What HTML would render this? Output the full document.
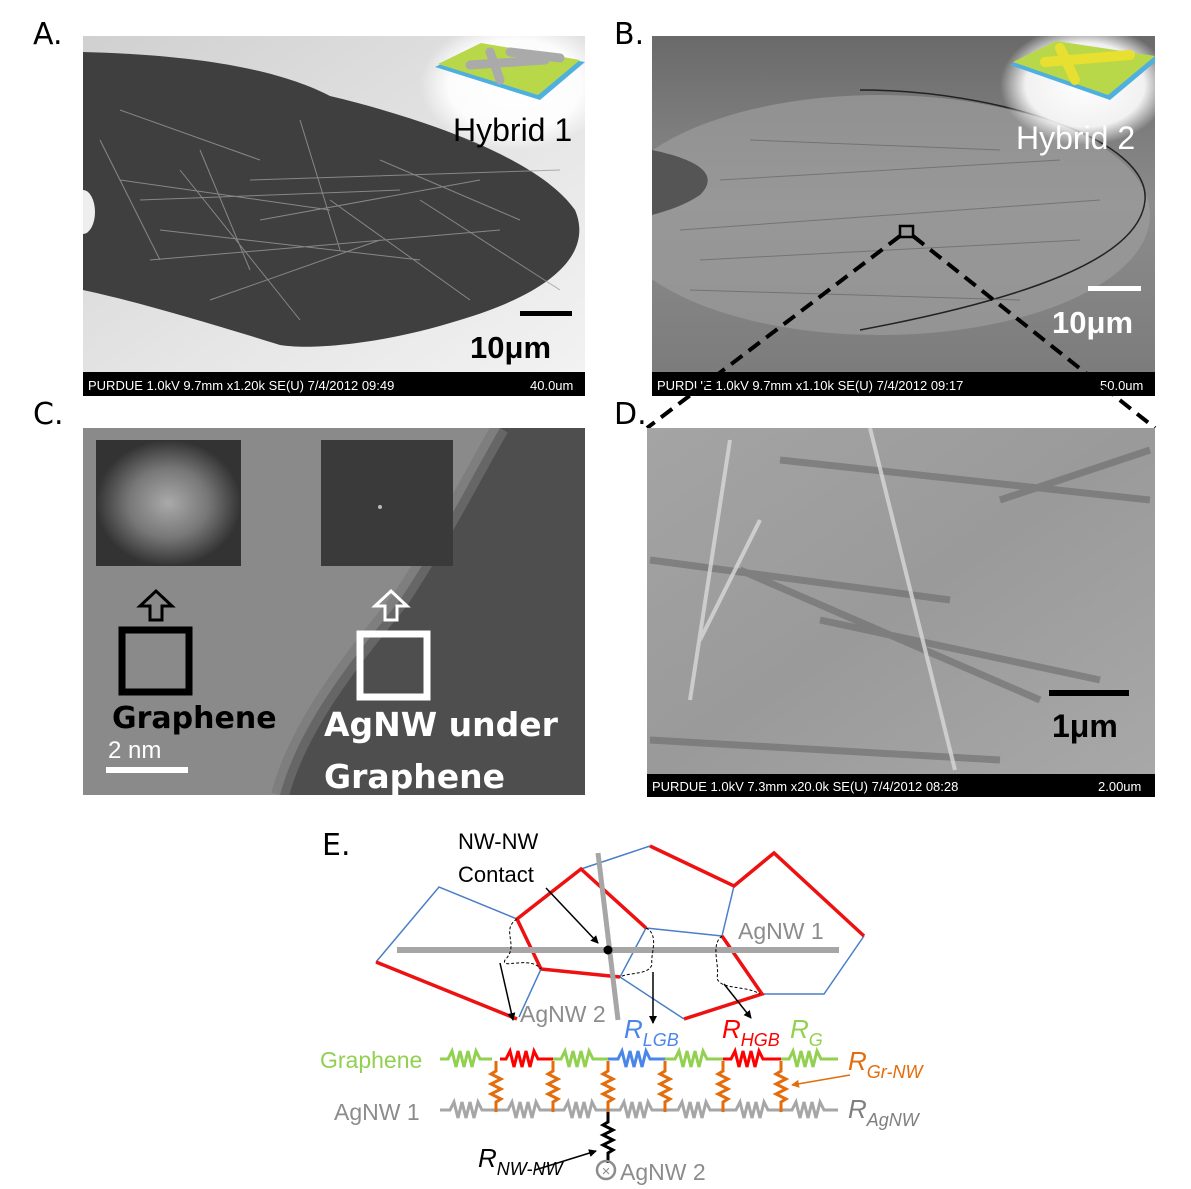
<!DOCTYPE html>
<html><head><meta charset="utf-8"><style>
html,body{margin:0;padding:0;background:#fff;}
svg{display:block;font-family:"Liberation Sans",sans-serif;}
.lbl{font-family:"DejaVu Sans","Liberation Sans",sans-serif;}
</style></head><body>
<svg width="1191" height="1189" viewBox="0 0 1191 1189" xmlns="http://www.w3.org/2000/svg">
<defs>
<clipPath id="cA"><rect x="83" y="36" width="502" height="336"/></clipPath>
<clipPath id="cB"><rect x="652" y="36" width="503" height="336"/></clipPath>
<clipPath id="cC"><rect x="83" y="428" width="502" height="367"/></clipPath>
<clipPath id="cD"><rect x="647" y="428" width="508" height="346"/></clipPath>
<linearGradient id="bgA" x1="0" y1="0" x2="1" y2="1"><stop offset="0" stop-color="#d0d0d0"/><stop offset="0.6" stop-color="#e6e6e6"/><stop offset="1" stop-color="#f2f2f2"/></linearGradient>
<linearGradient id="bgB" x1="0" y1="0" x2="0" y2="1"><stop offset="0" stop-color="#6a6a6a"/><stop offset="0.5" stop-color="#8c8c8c"/><stop offset="1" stop-color="#7c7c7c"/></linearGradient>
<radialGradient id="wB" cx="0.5" cy="0.5" r="0.5"><stop offset="0" stop-color="#fff" stop-opacity="1"/><stop offset="0.7" stop-color="#fff" stop-opacity="0.9"/><stop offset="1" stop-color="#fff" stop-opacity="0"/></radialGradient>
<radialGradient id="fft1" cx="0.5" cy="0.5" r="0.5"><stop offset="0" stop-color="#aaa"/><stop offset="0.55" stop-color="#777"/><stop offset="1" stop-color="#333"/></radialGradient>
<linearGradient id="bgD" x1="0" y1="0" x2="1" y2="1"><stop offset="0" stop-color="#a4a4a4"/><stop offset="0.5" stop-color="#9a9a9a"/><stop offset="1" stop-color="#a8a8a8"/></linearGradient>
<marker id="ah" markerWidth="8" markerHeight="8" refX="7" refY="4" orient="auto" markerUnits="userSpaceOnUse"><path d="M0,0 L8,4 L0,8 z" fill="#000"/></marker>
<marker id="ao" markerWidth="8" markerHeight="8" refX="7" refY="4" orient="auto" markerUnits="userSpaceOnUse"><path d="M0,0 L8,4 L0,8 z" fill="#e46c0a"/></marker>
</defs>

<text x="33" y="44" font-size="30" class="lbl">A.</text>
<text x="614" y="44" font-size="30" class="lbl">B.</text>
<text x="33" y="424" font-size="30" class="lbl">C.</text>
<text x="614" y="424" font-size="30" class="lbl">D.</text>
<text x="322" y="855" font-size="30" class="lbl">E.</text>

<!-- Panel A -->
<g clip-path="url(#cA)">
<rect x="83" y="36" width="502" height="336" fill="url(#bgA)"/>
<path d="M83,52 C200,55 280,70 330,96 C430,120 540,160 575,210 C592,250 560,290 460,320 C380,345 310,350 280,345 C200,320 130,300 83,290 Z" fill="#3f3f3f"/>
<ellipse cx="83" cy="212" rx="12" ry="22" fill="#eee"/>
<g stroke="#9a9a9a" stroke-width="1" fill="none" opacity="0.8">
<path d="M120,180 L330,210 M140,200 L400,190 M160,230 L420,260 M200,150 L250,270 M300,120 L340,250 M150,260 L500,230 M250,180 L560,170 M330,200 L470,300 M120,110 L260,160 M380,160 L520,220 M210,300 L380,240 M420,200 L560,290 M180,170 L300,320 M260,220 L480,180 M100,140 L160,260"/>
</g>
<ellipse cx="515" cy="85" rx="95" ry="65" fill="url(#wB)"/>
<polygon points="435,67 480,45 585,62 540,100" fill="#4fb0e0"/>
<polygon points="438,64 481,43 580,60 538,95" fill="#b8d84a"/>
<g stroke="#aaa" stroke-width="9" stroke-linecap="round"><line x1="470" y1="65" x2="545" y2="60"/><line x1="490" y1="52" x2="500" y2="80"/><line x1="510" y1="52" x2="560" y2="58"/></g>
<text x="453" y="141" font-size="32" fill="#000">Hybrid 1</text>
<rect x="520" y="311" width="52" height="5" fill="#000"/>
<text x="470" y="358" font-size="31" font-weight="bold" fill="#000">10μm</text>
</g>
<rect x="83" y="372" width="502" height="24" fill="#000"/>
<text x="88" y="390" font-size="13" fill="#fff">PURDUE 1.0kV 9.7mm x1.20k SE(U) 7/4/2012 09:49</text>
<text x="530" y="390" font-size="13" fill="#fff">40.0um</text>

<!-- Panel B -->
<g clip-path="url(#cB)">
<rect x="652" y="36" width="503" height="336" fill="url(#bgB)"/>
<ellipse cx="880" cy="215" rx="270" ry="120" fill="#9c9c9c" opacity="0.7"/>
<path d="M652,150 C700,160 720,175 700,195 C685,205 670,210 652,215" fill="#555"/>
<path d="M860,90 C1000,90 1150,140 1145,200 C1140,260 1020,300 860,330" fill="none" stroke="#222" stroke-width="1.5"/>
<g stroke="#666" stroke-width="1" opacity="0.7">
<path d="M680,230 L1100,200 M700,260 L1080,240 M720,180 L1060,160 M690,290 L1020,300 M750,140 L1000,150"/>
</g>
<ellipse cx="1085" cy="85" rx="85" ry="60" fill="url(#wB)"/>
<polygon points="1010,65 1055,43 1160,58 1110,100" fill="#4fb0e0"/>
<polygon points="1013,62 1056,41 1155,56 1108,95" fill="#b8d84a"/>
<g stroke="#e8e030" stroke-width="10" stroke-linecap="round"><line x1="1045" y1="62" x2="1130" y2="55"/><line x1="1060" y1="48" x2="1075" y2="80"/></g>
<text x="1016" y="149" font-size="32" fill="#fff">Hybrid 2</text>
<rect x="1088" y="286" width="53" height="5" fill="#fff"/>
<text x="1052" y="333" font-size="31" font-weight="bold" fill="#fff">10μm</text>
</g>
<rect x="652" y="372" width="503" height="24" fill="#000"/>
<text x="657" y="390" font-size="13" fill="#fff">PURDUE 1.0kV 9.7mm x1.10k SE(U) 7/4/2012 09:17</text>
<text x="1100" y="390" font-size="13" fill="#fff">50.0um</text>
<rect x="900" y="226" width="13" height="11" fill="none" stroke="#000" stroke-width="2.5"/>
<g stroke="#000" stroke-width="4" stroke-dasharray="14,8"><line x1="900" y1="236" x2="647" y2="428"/><line x1="913" y1="236" x2="1155" y2="428"/></g>

<!-- Panel C -->
<g clip-path="url(#cC)">
<rect x="83" y="428" width="502" height="367" fill="#8a8a8a"/>
<path d="M500,428 L585,428 L585,795 L280,795 C300,720 360,650 400,600 C440,540 470,480 500,428 Z" fill="#4e4e4e"/>
<path d="M500,428 C470,480 440,540 400,600 C360,650 300,720 280,795" fill="none" stroke="#777" stroke-width="18" opacity="0.6"/>
<rect x="96" y="440" width="145" height="126" fill="url(#fft1)"/>
<rect x="321" y="440" width="132" height="126" fill="#3a3a3a"/>
<circle cx="380" cy="507" r="2" fill="#bbb"/>
<path d="M150,620 v-14 h-10 l16,-15 l16,15 h-10 v14 z" fill="none" stroke="#000" stroke-width="3"/>
<path d="M385,620 v-14 h-10 l16,-15 l16,15 h-10 v14 z" fill="none" stroke="#fff" stroke-width="3"/>
<rect x="122" y="630" width="67" height="62" fill="none" stroke="#000" stroke-width="7"/>
<rect x="360" y="634" width="67" height="63" fill="none" stroke="#fff" stroke-width="7"/>
<text x="112" y="728" font-size="30" font-weight="bold" fill="#000" class="lbl">Graphene</text>
<text x="324" y="736" font-size="33" font-weight="bold" fill="#fff" class="lbl">AgNW under</text>
<text x="324" y="788" font-size="33" font-weight="bold" fill="#fff" class="lbl">Graphene</text>
<text x="108" y="758" font-size="24" fill="#fff">2 nm</text>
<rect x="106" y="767" width="82" height="6" fill="#fff"/>
</g>

<!-- Panel D -->
<g clip-path="url(#cD)">
<rect x="647" y="428" width="508" height="346" fill="url(#bgD)"/>
<g stroke="#6a6a6a" stroke-width="7" opacity="0.6" fill="none">
<path d="M650,560 L950,600 M740,570 L1040,700 M1000,500 L1150,450 M780,460 L1150,500 M650,740 L1000,760 M820,620 L1100,680"/>
</g>
<g stroke="#d8d8d8" stroke-width="4" opacity="0.8" fill="none">
<path d="M870,428 L955,770 M730,440 L690,700 M700,640 L760,520"/>
</g>
<rect x="1049" y="690" width="80" height="6" fill="#000"/>
<text x="1052" y="737" font-size="32" font-weight="bold" fill="#000">1μm</text>
</g>
<rect x="647" y="774" width="508" height="23" fill="#000"/>
<text x="652" y="791" font-size="13" fill="#fff">PURDUE 1.0kV 7.3mm x20.0k SE(U) 7/4/2012 08:28</text>
<text x="1098" y="791" font-size="13" fill="#fff">2.00um</text>

<!-- Panel E -->
<g fill="none" stroke="#4a7fc8" stroke-width="1.5">
<path d="M376,962 L439,887 L517,919"/>
<path d="M541,969 L519,1017"/>
<path d="M581,869 L650,846"/>
<path d="M646,928 L722,936"/>
<path d="M646,928 L620,977 L684,1019"/>
<path d="M734,886 L722,936"/>
<path d="M864,936 L824,994 L762,994"/>
</g>
<g fill="none" stroke="#ee1111" stroke-width="3.5">
<path d="M376,962 L517,1019"/>
<path d="M541,969 L517,919 L581,869 L646,928"/>
<path d="M541,969 L620,977"/>
<path d="M650,846 L734,886 L774,853 L864,936"/>
<path d="M722,936 L762,994 L684,1019"/>
</g>
<line x1="397" y1="950" x2="839" y2="950" stroke="#a6a6a6" stroke-width="6"/>
<line x1="598" y1="853" x2="618" y2="1020" stroke="#a6a6a6" stroke-width="5"/>
<circle cx="608" cy="950" r="4.5" fill="#000"/>
<g fill="none" stroke="#000" stroke-width="1" stroke-dasharray="3,2">
<path d="M517,919 C500,930 520,945 505,960 C500,970 530,955 541,969"/>
<path d="M646,928 C660,935 650,955 652,964 C650,975 630,972 620,977"/>
<path d="M722,936 C710,945 720,965 717,978 C720,990 745,985 760,994"/>
</g>
<g stroke="#000" stroke-width="1.5" marker-end="url(#ah)">
<line x1="546" y1="888" x2="598" y2="943"/>
<line x1="500" y1="963" x2="513" y2="1020"/>
<line x1="653" y1="972" x2="653" y2="1023"/>
<line x1="724" y1="984" x2="751" y2="1018"/>
<line x1="535" y1="1170" x2="596" y2="1151"/>
</g>
<line x1="850" y1="1075" x2="792" y2="1085" stroke="#e46c0a" stroke-width="1.5" marker-end="url(#ao)"/>
<text x="458" y="849" font-size="22" fill="#000">NW-NW</text>
<text x="458" y="882" font-size="22" fill="#000">Contact</text>
<text x="738" y="939" font-size="23" fill="#8c8c8c">AgNW 1</text>
<text x="520" y="1022" font-size="23" fill="#8c8c8c">AgNW 2</text>

<g fill="none" stroke-width="3">
<path d="M440,1059 h8 l4,-8 l4,16 l4,-16 l4,16 l4,-16 l4,16 l4,-16 l4,8 h12" stroke="#92d050"/>
<path d="M500,1059 h6 l4,-8 l4,16 l4,-16 l4,16 l4,-16 l4,16 l4,-16 l4,8 h15" stroke="#ff0000"/>
<path d="M553,1059 h8 l4,-8 l4,16 l4,-16 l4,16 l4,-16 l4,16 l4,-16 l4,8 h15" stroke="#92d050"/>
<path d="M608,1059 h10 l4,-8 l4,16 l4,-16 l4,16 l4,-16 l4,16 l4,-16 l4,8 h15" stroke="#4a86e8"/>
<path d="M665,1059 h10 l4,-8 l4,16 l4,-16 l4,16 l4,-16 l4,16 l4,-16 l4,8 h16" stroke="#92d050"/>
<path d="M723,1059 h8 l4,-8 l4,16 l4,-16 l4,16 l4,-16 l4,16 l4,-16 l4,8 h18" stroke="#ff0000"/>
<path d="M781,1059 h8 l4,-8 l4,16 l4,-16 l4,16 l4,-16 l4,16 l4,-16 l4,8 h17" stroke="#92d050"/>
</g>
<path fill="none" stroke="#a6a6a6" stroke-width="3" d="M440,1110 h10 l4,-8 l4,16 l4,-16 l4,16 l4,-16 l4,16 l4,-16 l4,8 h26 l4,-8 l4,16 l4,-16 l4,16 l4,-16 l4,16 l4,-16 l4,8 h24 l4,-8 l4,16 l4,-16 l4,16 l4,-16 l4,16 l4,-16 l4,8 h24 l4,-8 l4,16 l4,-16 l4,16 l4,-16 l4,16 l4,-16 l4,8 h26 l4,-8 l4,16 l4,-16 l4,16 l4,-16 l4,16 l4,-16 l4,8 h26 l4,-8 l4,16 l4,-16 l4,16 l4,-16 l4,16 l4,-16 l4,8 h24 l4,-8 l4,16 l4,-16 l4,16 l4,-16 l4,16 l4,-16 l4,8 h14"/>
<g fill="none" stroke="#e46c0a" stroke-width="3">
<path d="M496,1061 v10 l-5,3 l10,5 l-10,5 l10,5 l-10,5 l10,5 l-5,3 v10"/>
<path d="M553,1061 v10 l-5,3 l10,5 l-10,5 l10,5 l-10,5 l10,5 l-5,3 v10"/>
<path d="M608,1061 v10 l-5,3 l10,5 l-10,5 l10,5 l-10,5 l10,5 l-5,3 v10"/>
<path d="M665,1061 v10 l-5,3 l10,5 l-10,5 l10,5 l-10,5 l10,5 l-5,3 v10"/>
<path d="M723,1061 v10 l-5,3 l10,5 l-10,5 l10,5 l-10,5 l10,5 l-5,3 v10"/>
<path d="M781,1061 v10 l-5,3 l10,5 l-10,5 l10,5 l-10,5 l10,5 l-5,3 v10"/>
</g>
<path d="M608,1112 v10 l-5,3 l10,5 l-10,5 l10,5 l-10,5 l10,5 l-5,3 v10" fill="none" stroke="#000" stroke-width="3"/>
<circle cx="606" cy="1170" r="9" fill="none" stroke="#8c8c8c" stroke-width="2.5"/>
<text x="606" y="1176" font-size="15" fill="#8c8c8c" text-anchor="middle">×</text>
<text x="620" y="1180" font-size="23" fill="#8c8c8c">AgNW 2</text>
<text x="320" y="1068" font-size="23" fill="#92d050">Graphene</text>
<text x="334" y="1120" font-size="23" fill="#8c8c8c">AgNW 1</text>
<text x="624" y="1038" font-size="26" font-style="italic" fill="#4a86e8">R<tspan font-size="18" dy="8">LGB</tspan></text>
<text x="722" y="1038" font-size="26" font-style="italic" fill="#ff0000">R<tspan font-size="18" dy="8">HGB</tspan></text>
<text x="790" y="1038" font-size="26" font-style="italic" fill="#92d050">R<tspan font-size="18" dy="8">G</tspan></text>
<text x="848" y="1070" font-size="26" font-style="italic" fill="#e46c0a">R<tspan font-size="18" dy="8">Gr-NW</tspan></text>
<text x="848" y="1118" font-size="26" font-style="italic" fill="#7f7f7f">R<tspan font-size="18" dy="8">AgNW</tspan></text>
<text x="478" y="1167" font-size="26" font-style="italic" fill="#000">R<tspan font-size="18" dy="8">NW-NW</tspan></text>
</svg>
</body></html>
